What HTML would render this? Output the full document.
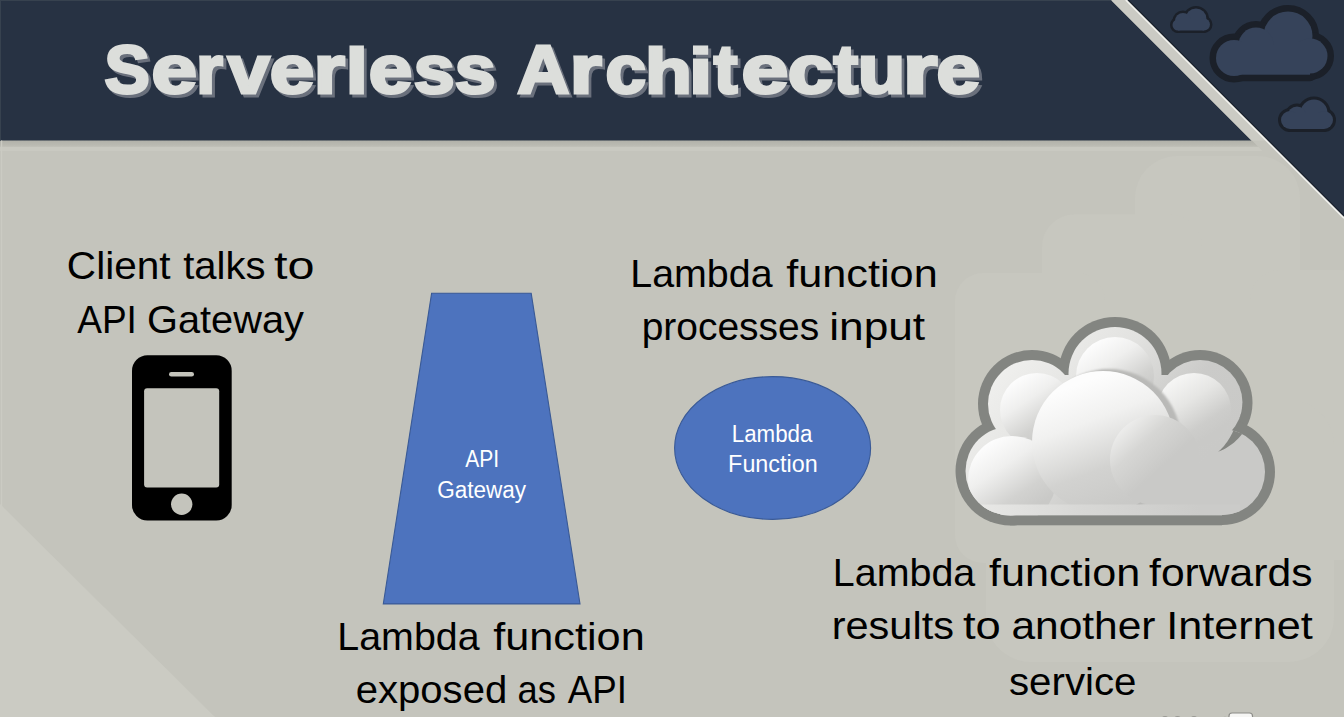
<!DOCTYPE html>
<html><head><meta charset="utf-8"><title>Serverless Architecture</title>
<style>
html,body{margin:0;padding:0;width:1344px;height:717px;overflow:hidden;background:#c4c4bc;}
svg{display:block}
text{font-family:"Liberation Sans",sans-serif;}
</style></head><body>
<svg width="1344" height="717" viewBox="0 0 1344 717">
<defs>
<linearGradient id="bsh" x1="0" y1="0" x2="0" y2="1">
 <stop offset="0" stop-color="#b1b1a9"/><stop offset="0.7" stop-color="#b9b9b1"/><stop offset="1" stop-color="#c1c1b9"/>
</linearGradient>
<linearGradient id="cbody" gradientUnits="userSpaceOnUse" x1="990" y1="340" x2="1170" y2="500">
 <stop offset="0" stop-color="#f4f4f2"/><stop offset="0.45" stop-color="#e2e2e0"/><stop offset="0.75" stop-color="#cbcbc9"/><stop offset="1" stop-color="#c9c9c7"/>
</linearGradient>
<linearGradient id="pf" x1="0.2" y1="0.1" x2="0.7" y2="0.85">
 <stop offset="0" stop-color="#fdfdfd"/><stop offset="0.35" stop-color="#efefee"/><stop offset="0.75" stop-color="#d2d2d0"/><stop offset="1" stop-color="#c9c9c7"/>
</linearGradient>
<linearGradient id="pfb" x1="0.3" y1="0.1" x2="0.62" y2="0.95">
 <stop offset="0" stop-color="#fdfdfd"/><stop offset="0.3" stop-color="#f1f1f0"/><stop offset="0.68" stop-color="#d2d2d0"/><stop offset="1" stop-color="#c9c9c7"/>
</linearGradient>
<linearGradient id="pf3" x1="0.2" y1="0.1" x2="0.7" y2="0.85">
 <stop offset="0" stop-color="#f6f6f5"/><stop offset="0.4" stop-color="#e6e6e4"/><stop offset="0.8" stop-color="#cdcdcb"/><stop offset="1" stop-color="#c9c9c7"/>
</linearGradient>
<linearGradient id="pf2" x1="0.1" y1="0.1" x2="0.55" y2="0.6">
 <stop offset="0" stop-color="#f2f2f1"/><stop offset="0.5" stop-color="#d6d6d4"/><stop offset="1" stop-color="#c9c9c7"/>
</linearGradient>
<linearGradient id="band" gradientUnits="userSpaceOnUse" x1="980" y1="0" x2="1200" y2="0">
 <stop offset="0" stop-color="#e8e8e6"/><stop offset="0.45" stop-color="#d8d8d6"/><stop offset="1" stop-color="#cbcbc9"/>
</linearGradient>
<filter id="tsh" x="-0.05" y="-0.2" width="1.1" height="1.4"><feGaussianBlur stdDeviation="0.6"/></filter>
<filter id="bl2" x="-0.2" y="-0.2" width="1.4" height="1.4"><feGaussianBlur stdDeviation="1.2"/></filter>
<filter id="bl" x="-0.2" y="-0.2" width="1.4" height="1.4"><feGaussianBlur stdDeviation="2.5"/></filter>
<clipPath id="cin"><circle cx="1115" cy="373.5" r="46.5"/><circle cx="1032" cy="404" r="44"/><circle cx="1200" cy="402.5" r="42.5"/><circle cx="1010" cy="471" r="44.5"/><circle cx="1222" cy="472" r="43"/><rect x="1010" y="400" width="212" height="115.3"/><rect x="1030" y="375" width="170" height="60"/></clipPath>
<radialGradient id="puff" cx="0.5" cy="0.5" r="0.5" fx="0.3" fy="0.25">
 <stop offset="0" stop-color="#fdfdfd"/><stop offset="0.45" stop-color="#f0f0ef"/><stop offset="1" stop-color="#cfcfcd"/>
</radialGradient>
<radialGradient id="wm" cx="0.5" cy="0.5" r="0.5">
 <stop offset="0" stop-color="#cdcdc6"/><stop offset="0.8" stop-color="#cbcbc4"/><stop offset="1" stop-color="#c4c4bc" stop-opacity="0"/>
</radialGradient>
</defs>
<rect width="1344" height="717" fill="#c4c4bc"/>
<polygon points="0,504 0,717 215,717" fill="#cbcbc3"/>
<g fill="#c7c7bf">
 <rect x="1135" y="156" width="165" height="280" rx="42"/>
 <rect x="1042" y="214.6" width="160" height="220" rx="32"/>
 <rect x="955" y="273" width="150" height="290" rx="28"/>
 <rect x="1250" y="270" width="120" height="290" rx="30"/>
 <rect x="986" y="400" width="348" height="262" rx="45"/>
 <rect x="1000" y="300" width="300" height="300"/>
</g>
<polygon points="0,140 1251.5,140 1258.5,147 0,147" fill="url(#bsh)"/><polygon points="0,147 1258.5,147 1262.5,151 0,151" fill="#c9c9c1"/>
<polygon points="0,0 1111,0 1251.5,140.5 0,140.5" fill="#273243"/>
<rect x="0" y="0" width="1112" height="1" fill="#37424f"/><rect x="0" y="0" width="1" height="140.5" fill="#37424f"/><rect x="1" y="140.5" width="1.2" height="577" fill="#cbcbc3"/>
<polygon points="1127,0 1344,0 1344,217" fill="#273243"/>
<polygon points="1111,0 1127,0 1267.5,140.5 1251.5,140.5" fill="#cbcbc4"/>
<line x1="1125.8" y1="0" x2="1344" y2="218.2" stroke="#f2f2ee" stroke-width="1.6"/>
<line x1="1128.2" y1="0" x2="1344" y2="215.8" stroke="#141a22" stroke-width="1.2" opacity="0.6"/>
<g fill="#1b2029" stroke="#1b2029" stroke-width="13" stroke-linejoin="round"><circle cx="1288" cy="36" r="24.5"/><circle cx="1256" cy="45" r="17.5"/><circle cx="1234" cy="58" r="18"/><circle cx="1310" cy="56" r="17.5"/><rect x="1233" y="45" width="77" height="29.7"/></g><g fill="#36435a"><circle cx="1288" cy="36" r="24.5"/><circle cx="1256" cy="45" r="17.5"/><circle cx="1234" cy="58" r="18"/><circle cx="1310" cy="56" r="17.5"/><rect x="1233" y="45" width="77" height="29.7"/></g><g fill="#1b2029" stroke="#1b2029" stroke-width="5" stroke-linejoin="round"><circle cx="1196" cy="19" r="10.5"/><circle cx="1183" cy="21" r="8"/><circle cx="1178" cy="25" r="5.5"/><circle cx="1204" cy="24.5" r="6"/><rect x="1178" y="19" width="26" height="11.5"/></g><g fill="#36435a"><circle cx="1196" cy="19" r="10.5"/><circle cx="1183" cy="21" r="8"/><circle cx="1178" cy="25" r="5.5"/><circle cx="1204" cy="24.5" r="6"/><rect x="1178" y="19" width="26" height="11.5"/></g><g fill="#1b2029" stroke="#1b2029" stroke-width="6" stroke-linejoin="round"><circle cx="1314" cy="113" r="13.5"/><circle cx="1297" cy="116" r="9.5"/><circle cx="1290" cy="120" r="9"/><circle cx="1324" cy="120" r="9"/><rect x="1290" y="113" width="34" height="16"/></g><g fill="#36435a"><circle cx="1314" cy="113" r="13.5"/><circle cx="1297" cy="116" r="9.5"/><circle cx="1290" cy="120" r="9"/><circle cx="1324" cy="120" r="9"/><rect x="1290" y="113" width="34" height="16"/></g>
<g filter="url(#tsh)"><text transform="translate(107.36,95.90) scale(0.9977,1.0000)" font-size="68" font-weight="bold" fill="#6a707c" stroke="#6a707c" stroke-width="3" stroke-linejoin="miter" stroke-miterlimit="2">S</text><text transform="translate(154.33,95.90) scale(1.2009,1.0000)" font-size="68" font-weight="bold" fill="#6a707c" stroke="#6a707c" stroke-width="3" stroke-linejoin="miter" stroke-miterlimit="2">e</text><text transform="translate(199.17,95.90) scale(1.0050,1.0000)" font-size="68" font-weight="bold" fill="#6a707c" stroke="#6a707c" stroke-width="3" stroke-linejoin="miter" stroke-miterlimit="2">r</text><text transform="translate(230.59,95.90) scale(1.1108,1.0000)" font-size="68" font-weight="bold" fill="#6a707c" stroke="#6a707c" stroke-width="3" stroke-linejoin="miter" stroke-miterlimit="2">v</text><text transform="translate(272.47,95.90) scale(1.1756,1.0000)" font-size="68" font-weight="bold" fill="#6a707c" stroke="#6a707c" stroke-width="3" stroke-linejoin="miter" stroke-miterlimit="2">e</text><text transform="translate(316.47,95.90) scale(1.1752,1.0000)" font-size="68" font-weight="bold" fill="#6a707c" stroke="#6a707c" stroke-width="3" stroke-linejoin="miter" stroke-miterlimit="2">r</text><text transform="translate(348.60,95.90) scale(1.1661,0.9350)" font-size="68" font-weight="bold" fill="#6a707c" stroke="#6a707c" stroke-width="3" stroke-linejoin="miter" stroke-miterlimit="2">l</text><text transform="translate(371.60,95.90) scale(1.1504,1.0000)" font-size="68" font-weight="bold" fill="#6a707c" stroke="#6a707c" stroke-width="3" stroke-linejoin="miter" stroke-miterlimit="2">e</text><text transform="translate(416.55,95.90) scale(1.0802,1.0000)" font-size="68" font-weight="bold" fill="#6a707c" stroke="#6a707c" stroke-width="3" stroke-linejoin="miter" stroke-miterlimit="2">s</text><text transform="translate(457.55,95.90) scale(1.0802,1.0000)" font-size="68" font-weight="bold" fill="#6a707c" stroke="#6a707c" stroke-width="3" stroke-linejoin="miter" stroke-miterlimit="2">s</text><text transform="translate(520.09,95.90) scale(1.0605,1.0000)" font-size="68" font-weight="bold" fill="#6a707c" stroke="#6a707c" stroke-width="3" stroke-linejoin="miter" stroke-miterlimit="2">A</text><text transform="translate(572.57,95.90) scale(1.2085,1.0000)" font-size="68" font-weight="bold" fill="#6a707c" stroke="#6a707c" stroke-width="3" stroke-linejoin="miter" stroke-miterlimit="2">r</text><text transform="translate(608.19,95.90) scale(1.0700,1.0000)" font-size="68" font-weight="bold" fill="#6a707c" stroke="#6a707c" stroke-width="3" stroke-linejoin="miter" stroke-miterlimit="2">c</text><text transform="translate(647.72,95.90) scale(1.1279,0.9350)" font-size="68" font-weight="bold" fill="#6a707c" stroke="#6a707c" stroke-width="3" stroke-linejoin="miter" stroke-miterlimit="2">h</text><text transform="translate(691.89,95.90) scale(1.2300,0.9350)" font-size="68" font-weight="bold" fill="#6a707c" stroke="#6a707c" stroke-width="3" stroke-linejoin="miter" stroke-miterlimit="2">i</text><text transform="translate(716.46,95.90) scale(1.0465,1.0013)" font-size="68" font-weight="bold" fill="#6a707c" stroke="#6a707c" stroke-width="3" stroke-linejoin="miter" stroke-miterlimit="2">t</text><text transform="translate(744.39,95.90) scale(1.2402,1.0000)" font-size="68" font-weight="bold" fill="#6a707c" stroke="#6a707c" stroke-width="3" stroke-linejoin="miter" stroke-miterlimit="2">e</text><text transform="translate(790.64,95.90) scale(1.2007,1.0000)" font-size="68" font-weight="bold" fill="#6a707c" stroke="#6a707c" stroke-width="3" stroke-linejoin="miter" stroke-miterlimit="2">c</text><text transform="translate(836.19,95.90) scale(1.0839,1.0013)" font-size="68" font-weight="bold" fill="#6a707c" stroke="#6a707c" stroke-width="3" stroke-linejoin="miter" stroke-miterlimit="2">t</text><text transform="translate(860.45,95.90) scale(1.1451,1.0000)" font-size="68" font-weight="bold" fill="#6a707c" stroke="#6a707c" stroke-width="3" stroke-linejoin="miter" stroke-miterlimit="2">u</text><text transform="translate(905.82,95.90) scale(1.2957,1.0000)" font-size="68" font-weight="bold" fill="#6a707c" stroke="#6a707c" stroke-width="3" stroke-linejoin="miter" stroke-miterlimit="2">r</text><text transform="translate(939.39,95.90) scale(1.1532,1.0000)" font-size="68" font-weight="bold" fill="#6a707c" stroke="#6a707c" stroke-width="3" stroke-linejoin="miter" stroke-miterlimit="2">e</text></g><g><text transform="translate(104.56,93.10) scale(0.9977,1.0000)" font-size="68" font-weight="bold" fill="#dcdedb" stroke="#dcdedb" stroke-width="3" stroke-linejoin="miter" stroke-miterlimit="2">S</text><text transform="translate(151.53,93.10) scale(1.2009,1.0000)" font-size="68" font-weight="bold" fill="#dcdedb" stroke="#dcdedb" stroke-width="3" stroke-linejoin="miter" stroke-miterlimit="2">e</text><text transform="translate(196.37,93.10) scale(1.0050,1.0000)" font-size="68" font-weight="bold" fill="#dcdedb" stroke="#dcdedb" stroke-width="3" stroke-linejoin="miter" stroke-miterlimit="2">r</text><text transform="translate(227.79,93.10) scale(1.1108,1.0000)" font-size="68" font-weight="bold" fill="#dcdedb" stroke="#dcdedb" stroke-width="3" stroke-linejoin="miter" stroke-miterlimit="2">v</text><text transform="translate(269.67,93.10) scale(1.1756,1.0000)" font-size="68" font-weight="bold" fill="#dcdedb" stroke="#dcdedb" stroke-width="3" stroke-linejoin="miter" stroke-miterlimit="2">e</text><text transform="translate(313.67,93.10) scale(1.1752,1.0000)" font-size="68" font-weight="bold" fill="#dcdedb" stroke="#dcdedb" stroke-width="3" stroke-linejoin="miter" stroke-miterlimit="2">r</text><text transform="translate(345.80,93.10) scale(1.1661,0.9350)" font-size="68" font-weight="bold" fill="#dcdedb" stroke="#dcdedb" stroke-width="3" stroke-linejoin="miter" stroke-miterlimit="2">l</text><text transform="translate(368.80,93.10) scale(1.1504,1.0000)" font-size="68" font-weight="bold" fill="#dcdedb" stroke="#dcdedb" stroke-width="3" stroke-linejoin="miter" stroke-miterlimit="2">e</text><text transform="translate(413.75,93.10) scale(1.0802,1.0000)" font-size="68" font-weight="bold" fill="#dcdedb" stroke="#dcdedb" stroke-width="3" stroke-linejoin="miter" stroke-miterlimit="2">s</text><text transform="translate(454.75,93.10) scale(1.0802,1.0000)" font-size="68" font-weight="bold" fill="#dcdedb" stroke="#dcdedb" stroke-width="3" stroke-linejoin="miter" stroke-miterlimit="2">s</text><text transform="translate(517.29,93.10) scale(1.0605,1.0000)" font-size="68" font-weight="bold" fill="#dcdedb" stroke="#dcdedb" stroke-width="3" stroke-linejoin="miter" stroke-miterlimit="2">A</text><text transform="translate(569.77,93.10) scale(1.2085,1.0000)" font-size="68" font-weight="bold" fill="#dcdedb" stroke="#dcdedb" stroke-width="3" stroke-linejoin="miter" stroke-miterlimit="2">r</text><text transform="translate(605.39,93.10) scale(1.0700,1.0000)" font-size="68" font-weight="bold" fill="#dcdedb" stroke="#dcdedb" stroke-width="3" stroke-linejoin="miter" stroke-miterlimit="2">c</text><text transform="translate(644.92,93.10) scale(1.1279,0.9350)" font-size="68" font-weight="bold" fill="#dcdedb" stroke="#dcdedb" stroke-width="3" stroke-linejoin="miter" stroke-miterlimit="2">h</text><text transform="translate(689.09,93.10) scale(1.2300,0.9350)" font-size="68" font-weight="bold" fill="#dcdedb" stroke="#dcdedb" stroke-width="3" stroke-linejoin="miter" stroke-miterlimit="2">i</text><text transform="translate(713.66,93.10) scale(1.0465,1.0013)" font-size="68" font-weight="bold" fill="#dcdedb" stroke="#dcdedb" stroke-width="3" stroke-linejoin="miter" stroke-miterlimit="2">t</text><text transform="translate(741.59,93.10) scale(1.2402,1.0000)" font-size="68" font-weight="bold" fill="#dcdedb" stroke="#dcdedb" stroke-width="3" stroke-linejoin="miter" stroke-miterlimit="2">e</text><text transform="translate(787.84,93.10) scale(1.2007,1.0000)" font-size="68" font-weight="bold" fill="#dcdedb" stroke="#dcdedb" stroke-width="3" stroke-linejoin="miter" stroke-miterlimit="2">c</text><text transform="translate(833.39,93.10) scale(1.0839,1.0013)" font-size="68" font-weight="bold" fill="#dcdedb" stroke="#dcdedb" stroke-width="3" stroke-linejoin="miter" stroke-miterlimit="2">t</text><text transform="translate(857.65,93.10) scale(1.1451,1.0000)" font-size="68" font-weight="bold" fill="#dcdedb" stroke="#dcdedb" stroke-width="3" stroke-linejoin="miter" stroke-miterlimit="2">u</text><text transform="translate(903.02,93.10) scale(1.2957,1.0000)" font-size="68" font-weight="bold" fill="#dcdedb" stroke="#dcdedb" stroke-width="3" stroke-linejoin="miter" stroke-miterlimit="2">r</text><text transform="translate(936.59,93.10) scale(1.1532,1.0000)" font-size="68" font-weight="bold" fill="#dcdedb" stroke="#dcdedb" stroke-width="3" stroke-linejoin="miter" stroke-miterlimit="2">e</text></g>
<!-- phone -->
<rect x="132" y="355.3" width="99.7" height="165.3" rx="15.5" fill="#000"/>
<rect x="144.1" y="388.3" width="75.1" height="99.2" rx="3" fill="#c4c4bc"/>
<rect x="169" y="372" width="25" height="4.6" rx="2.3" fill="#c4c4bc"/>
<circle cx="181.7" cy="504.2" r="10.7" fill="#c4c4bc"/>
<!-- trapezoid -->
<polygon points="431.6,293.3 531.2,293.3 580,603.9 383.3,603.9" fill="#4d73be" stroke="#3a5a96" stroke-width="1.1"/>
<ellipse cx="772.6" cy="448" rx="98" ry="71.4" fill="#4d73be" stroke="#3a5a96" stroke-width="1.1"/>
<!-- light cloud -->
<g fill="#838581"><circle cx="1115" cy="373.5" r="56.5"/><circle cx="1032" cy="404" r="54"/><circle cx="1200" cy="402.5" r="52.5"/><circle cx="1010" cy="471" r="54.5"/><circle cx="1222" cy="472" r="53"/><rect x="1010" y="400" width="212" height="125.3"/><rect x="1030" y="365" width="170" height="60"/></g>
<g fill="url(#cbody)"><circle cx="1115" cy="373.5" r="46.5"/><circle cx="1032" cy="404" r="44"/><circle cx="1200" cy="402.5" r="42.5"/><circle cx="1010" cy="471" r="44.5"/><circle cx="1222" cy="472" r="43"/><rect x="1010" y="400" width="212" height="115.3"/><rect x="1030" y="375" width="170" height="60"/></g>
<g clip-path="url(#cin)">
 <circle cx="1037" cy="410" r="37" fill="url(#pf)"/>
 <circle cx="1115" cy="376" r="39" fill="url(#pf)"/>
 <circle cx="1194" cy="410" r="37" fill="url(#pf3)"/>
 <circle cx="1012" cy="480" r="44" fill="url(#pf)"/>
 <circle cx="1109" cy="441" r="72" fill="#b9b9b7" filter="url(#bl2)"/>
 <circle cx="1103" cy="442" r="71" fill="url(#pfb)"/>
 <circle cx="1155" cy="460" r="45" fill="url(#pf2)"/>
 <rect x="950" y="504.5" width="290" height="11" fill="url(#band)"/>
 <path d="M1252.5,402.5 L1252.4,405.2 L1252.2,407.8 L1251.9,410.5 L1251.4,413.1 L1250.8,415.7 L1250.1,418.2 L1249.2,420.8 L1248.2,423.2 L1247.1,425.7 L1245.9,428.0 L1244.5,430.3 L1243.1,432.5 L1241.5,434.7 L1239.8,436.7 L1238.0,438.7 L1236.1,440.6 L1234.1,442.4 L1232.1,444.1 L1229.9,445.6 L1227.7,447.1 L1225.4,448.5 L1223.0,449.7 L1220.6,450.8 L1218.1,451.8 L1218.1,451.8 L1220.2,449.9 L1222.1,447.9 L1224.0,445.9 L1225.6,443.8 L1227.2,441.7 L1228.6,439.6 L1229.9,437.5 L1231.1,435.3 L1232.2,433.2 L1233.2,431.1 L1234.1,429.0 L1235.0,426.9 L1236.0,425.0 L1237.1,423.2 L1238.1,421.2 L1239.0,419.3 L1239.8,417.3 L1240.5,415.2 L1241.1,413.2 L1241.6,411.1 L1242.0,408.9 L1242.3,406.8 L1242.4,404.7 L1242.5,402.5Z" fill="#838581"/>
</g>
<text x="66.87" y="279.20" font-size="39.5" textLength="103.70" lengthAdjust="spacingAndGlyphs" fill="#000">Client</text><text x="183.20" y="279.20" font-size="39.5" textLength="82.35" lengthAdjust="spacingAndGlyphs" fill="#000">talks</text><text x="273.97" y="279.20" font-size="39.5" textLength="40.52" lengthAdjust="spacingAndGlyphs" fill="#000">to</text><text x="77.20" y="332.90" font-size="39.5" textLength="59.70" lengthAdjust="spacingAndGlyphs" fill="#000">API</text><text x="147.01" y="332.90" font-size="39.5" textLength="156.94" lengthAdjust="spacingAndGlyphs" fill="#000">Gateway</text><text x="630.25" y="286.80" font-size="39.5" textLength="142.31" lengthAdjust="spacingAndGlyphs" fill="#000">Lambda</text><text x="786.25" y="286.80" font-size="39.5" textLength="151.47" lengthAdjust="spacingAndGlyphs" fill="#000">function</text><text x="641.67" y="339.70" font-size="39.5" textLength="177.51" lengthAdjust="spacingAndGlyphs" fill="#000">processes</text><text x="829.22" y="339.70" font-size="39.5" textLength="95.95" lengthAdjust="spacingAndGlyphs" fill="#000">input</text><text x="337.35" y="650.00" font-size="39.5" textLength="142.20" lengthAdjust="spacingAndGlyphs" fill="#000">Lambda</text><text x="493.25" y="650.00" font-size="39.5" textLength="151.47" lengthAdjust="spacingAndGlyphs" fill="#000">function</text><text x="355.70" y="702.80" font-size="39.5" textLength="151.54" lengthAdjust="spacingAndGlyphs" fill="#000">exposed</text><text x="517.44" y="702.80" font-size="39.5" textLength="38.47" lengthAdjust="spacingAndGlyphs" fill="#000">as</text><text x="567.70" y="702.80" font-size="39.5" textLength="59.17" lengthAdjust="spacingAndGlyphs" fill="#000">API</text><text x="832.85" y="585.70" font-size="39.5" textLength="142.41" lengthAdjust="spacingAndGlyphs" fill="#000">Lambda</text><text x="989.05" y="585.70" font-size="39.5" textLength="151.16" lengthAdjust="spacingAndGlyphs" fill="#000">function</text><text x="1149.06" y="585.70" font-size="39.5" textLength="163.41" lengthAdjust="spacingAndGlyphs" fill="#000">forwards</text><text x="831.70" y="639.30" font-size="39.5" textLength="122.27" lengthAdjust="spacingAndGlyphs" fill="#000">results</text><text x="962.92" y="639.30" font-size="39.5" textLength="37.85" lengthAdjust="spacingAndGlyphs" fill="#000">to</text><text x="1011.40" y="639.30" font-size="39.5" textLength="144.11" lengthAdjust="spacingAndGlyphs" fill="#000">another</text><text x="1166.31" y="639.30" font-size="39.5" textLength="146.45" lengthAdjust="spacingAndGlyphs" fill="#000">Internet</text><text x="1008.99" y="694.60" font-size="39.5" textLength="127.52" lengthAdjust="spacingAndGlyphs" fill="#000">service</text><text x="465.30" y="467.30" font-size="23" textLength="33.93" lengthAdjust="spacingAndGlyphs" fill="#fff">API</text><text x="437.17" y="498.10" font-size="23" textLength="88.96" lengthAdjust="spacingAndGlyphs" fill="#fff">Gateway</text><text x="731.81" y="441.80" font-size="23" textLength="80.66" lengthAdjust="spacingAndGlyphs" fill="#fff">Lambda</text><text x="728.13" y="472.10" font-size="23" textLength="89.50" lengthAdjust="spacingAndGlyphs" fill="#fff">Function</text>
<rect x="1229" y="713" width="23.5" height="8" rx="3" fill="#f6f6f4" stroke="#8c8c88" stroke-width="1.2"/><g fill="#9a9a95"><circle cx="1165" cy="719.5" r="3.5"/><circle cx="1177.5" cy="719.5" r="3.5"/><circle cx="1194" cy="719.5" r="3.5"/><circle cx="1225" cy="720" r="3.2"/></g>
</svg>
</body></html>
